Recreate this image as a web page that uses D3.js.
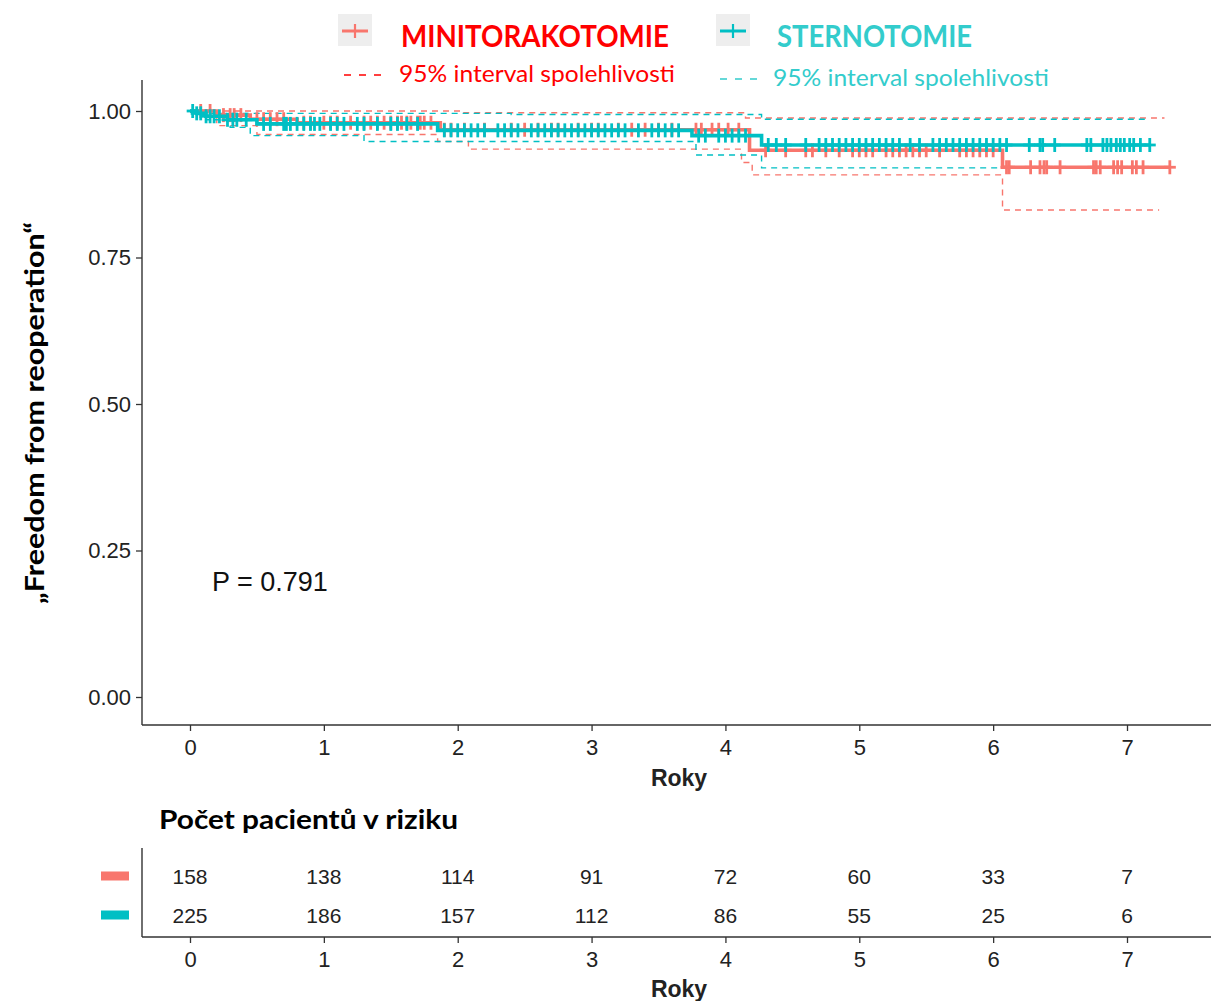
<!DOCTYPE html>
<html>
<head>
<meta charset="utf-8">
<script src="https://cdn.jsdelivr.net/npm/d3@7"></script>
<style>
  html, body { margin: 0; padding: 0; background: #fff; }
  svg { display: block; }
</style>
</head>
<body>
<svg id="chart" width="1211" height="1001"></svg>
<script>
// ---- Kaplan–Meier estimates (time in years, survival probability) ----
const redTimes  = [0, 0.2, 0.45, 0.8, 1.87, 4.18, 6.07];
const redSurv   = [1.0, 0.993, 0.986, 0.980, 0.968, 0.933, 0.904];
const redEnd    = 7.32;

const tealTimes = [0, 0.05, 0.12, 0.28, 0.5, 1.85, 3.75, 4.27];
const tealSurv  = [1.0, 0.996, 0.991, 0.985, 0.978, 0.967, 0.958, 0.942];
const tealEnd   = 7.17;

// 95% confidence bands
const redUpperT  = [0, 2.03, 4.15];
const redUpperS  = [1.0, 0.997, 0.988];
const redLowerT  = [0, 0.2, 0.5, 1.85, 2.08, 4.12, 4.2, 6.07];
const redLowerS  = [1.0, 0.975, 0.96, 0.948, 0.935, 0.912, 0.891, 0.831];

const tealUpperT = [0, 0.15, 2.4, 4.27];
const tealUpperS = [1.0, 0.996, 0.994, 0.986];
const tealLowerT = [0, 0.12, 0.3, 0.45, 1.3, 3.78, 4.27];
const tealLowerS = [1.0, 0.985, 0.972, 0.958, 0.948, 0.925, 0.903];

// censoring times
const redCensor = [0.08, 0.15, 0.25, 0.3, 0.33, 0.38, 0.5, 0.55, 0.6, 0.65, 0.7,
  0.85, 0.9, 1.0, 1.05, 1.1, 1.2, 1.3, 1.35, 1.4, 1.45, 1.5, 1.55, 1.58, 1.62, 1.65, 1.7, 1.72, 1.75, 1.8,
  1.9, 1.95, 2.05, 2.2, 2.4, 2.5, 2.6, 2.7, 2.75, 2.9, 3.0, 3.05, 3.2, 3.3, 3.4, 3.5, 3.6, 3.78, 3.82, 3.9, 3.95, 4.02, 4.1,
  4.3, 4.45, 4.6, 4.65, 4.75, 4.85, 4.95, 5.0, 5.05, 5.1, 5.2, 5.25, 5.3, 5.35, 5.4, 5.45, 5.5, 5.6, 5.75, 5.8, 5.85, 5.9, 5.95, 6.0,
  6.1, 6.12, 6.28, 6.35, 6.38, 6.4, 6.5, 6.75, 6.77, 6.8, 6.9, 6.93, 6.96, 7.04, 7.07, 7.12, 7.32];
const tealCensor = [0.02, 0.05, 0.08, 0.12, 0.15, 0.18, 0.22, 0.28, 0.32, 0.35, 0.42, 0.55, 0.6, 0.7, 0.72, 0.75, 0.8,
  0.85, 0.9, 0.93, 0.97, 1.05, 1.1, 1.15, 1.25, 1.3, 1.4, 1.5, 1.55, 1.62, 1.7,
  1.9, 1.95, 2.0, 2.05, 2.1, 2.15, 2.2, 2.3, 2.35, 2.4, 2.45, 2.55, 2.6, 2.65, 2.7, 2.75, 2.8, 2.85, 2.9, 2.95,
  3.0, 3.05, 3.1, 3.15, 3.2, 3.25, 3.35, 3.45, 3.5, 3.55, 3.6, 3.65,
  3.8, 3.85, 3.95, 4.0, 4.05, 4.1, 4.15,
  4.32, 4.38, 4.45, 4.6, 4.7, 4.75, 4.8, 4.85, 4.9, 4.95, 5.0, 5.05, 5.1, 5.15, 5.2, 5.25, 5.3, 5.38, 5.45,
  5.55, 5.6, 5.65, 5.7, 5.75, 5.8, 5.85, 5.9, 5.95, 6.0, 6.05, 6.1, 6.27, 6.35, 6.37, 6.46, 6.7, 6.73,
  6.82, 6.85, 6.88, 6.92, 6.95, 6.98, 7.02, 7.05, 7.1, 7.17];

// number at risk
const riskYears = [0, 1, 2, 3, 4, 5, 6, 7];
const redAtRisk  = [158, 138, 114, 91, 72, 60, 33, 7];
const tealAtRisk = [225, 186, 157, 112, 86, 55, 25, 6];

const yTicks = [0, 0.25, 0.5, 0.75, 1.0];
const pLabel = "P = 0.791";

// ---- layout ----
const RED = "#F8766D", TEAL = "#00BFC4";
const svg = d3.select("#chart");
const x = d3.scaleLinear().domain([0, 7]).range([190, 1127]);
const y = d3.scaleLinear().domain([0, 1]).range([697, 111]);
const axisColor = "#333";
const tickFont = "'Liberation Sans', Arial, sans-serif";

// axes of the survival panel
const xAxis = d3.axisBottom(x).tickValues(riskYears).tickFormat(d3.format("d")).tickSize(6).tickPadding(8);
const yAxis = d3.axisLeft(y).tickValues(yTicks).tickFormat(d3.format(".2f")).tickSize(6).tickPadding(5);

function styleAxis(g) {
  g.select(".domain").remove();
  g.selectAll(".tick line").attr("stroke", axisColor).attr("stroke-width", 1.3);
  g.selectAll(".tick text").attr("fill", "#222").style("font-family", tickFont).style("font-size", "22px");
}

svg.append("line").attr("x1", 142).attr("x2", 142).attr("y1", 80).attr("y2", 725)
  .attr("stroke", axisColor).attr("stroke-width", 1.4);
svg.append("line").attr("x1", 142).attr("x2", 1211).attr("y1", 725).attr("y2", 725)
  .attr("stroke", axisColor).attr("stroke-width", 1.4);

svg.append("g").attr("transform", "translate(0,725)").call(xAxis).call(styleAxis);
svg.append("g").attr("transform", "translate(142,0)").call(yAxis).call(styleAxis);

// step curves
const step = d3.line().x(d => x(d[0])).y(d => y(d[1])).curve(d3.curveStepAfter);
function pts(ts, ss, end) {
  const p = ts.map((t, i) => [t, ss[i]]);
  p.push([end, ss[ss.length - 1]]);
  return p;
}
function survAt(ts, ss, t) {
  let s = ss[0];
  for (let i = 0; i < ts.length; i++) if (ts[i] <= t) s = ss[i];
  return s;
}

const bands = [
  [redUpperT, redUpperS, redEnd - 0.04, RED],
  [redLowerT, redLowerS, redEnd - 0.08, RED],
  [tealUpperT, tealUpperS, tealEnd, TEAL],
  [tealLowerT, tealLowerS, tealEnd, TEAL]
];
bands.forEach(([t, s, e, c]) => {
  svg.append("path").attr("d", step(pts(t, s, e))).attr("fill", "none")
    .attr("stroke", c).attr("stroke-width", 1.4).attr("stroke-dasharray", "6,5");
});

function drawCurve(ts, ss, end, censor, color) {
  svg.append("path").attr("d", step(pts(ts, ss, end))).attr("fill", "none")
    .attr("stroke", color).attr("stroke-width", 3.6);
  const g = svg.append("g").attr("stroke", color).attr("stroke-width", 2.8);
  censor.forEach(t => {
    const cx = x(t), cy = y(survAt(ts, ss, t));
    g.append("line").attr("x1", cx).attr("x2", cx).attr("y1", cy - 7).attr("y2", cy + 7);
    g.append("line").attr("x1", cx - 6).attr("x2", cx + 6).attr("y1", cy).attr("y2", cy);
  });
}
drawCurve(redTimes, redSurv, redEnd, redCensor, RED);
drawCurve(tealTimes, tealSurv, tealEnd, tealCensor, TEAL);

// p-value
svg.append("text").attr("x", 212).attr("y", 591).text(pLabel)
  .style("font-family", tickFont).style("font-size", "27px").attr("fill", "#111");

// axis titles
svg.append("text").attr("x", 679).attr("y", 786).attr("text-anchor", "middle").text("Roky")
  .style("font-family", tickFont).style("font-size", "23px").style("font-weight", "bold").attr("fill", "#222");
svg.append("text").attr("transform", "translate(44,413) rotate(-90)").attr("text-anchor", "middle")
  .text("\u201EFreedom from reoperation\u201C")
  .attr("textLength", 382).attr("lengthAdjust", "spacingAndGlyphs")
  .style("font-family", "Lato, sans-serif").style("font-size", "27px").style("font-weight", "bold").attr("fill", "#000");

// legend
const calibri = "Lato, 'Open Sans', sans-serif";
function legendKey(x0, color) {
  svg.append("rect").attr("x", x0).attr("y", 14).attr("width", 34).attr("height", 32).attr("fill", "#EEEEEE");
  svg.append("line").attr("x1", x0 + 4).attr("x2", x0 + 30).attr("y1", 31).attr("y2", 31).attr("stroke", color).attr("stroke-width", 3);
  svg.append("line").attr("x1", x0 + 17).attr("x2", x0 + 17).attr("y1", 24).attr("y2", 38).attr("stroke", color).attr("stroke-width", 2.2);
}
legendKey(338, RED);
legendKey(716, TEAL);
svg.append("text").attr("x", 401).attr("y", 47).text("MINITORAKOTOMIE")
  .attr("textLength", 268).attr("lengthAdjust", "spacingAndGlyphs")
  .style("font-family", calibri).style("font-size", "30px").style("font-weight", "bold").attr("fill", "#FF0000");
svg.append("text").attr("x", 777).attr("y", 47).text("STERNOTOMIE")
  .attr("textLength", 195).attr("lengthAdjust", "spacingAndGlyphs")
  .style("font-family", calibri).style("font-size", "30px").style("font-weight", "bold").attr("fill", "#33CCCC");
svg.append("line").attr("x1", 344).attr("x2", 383).attr("y1", 75).attr("y2", 75)
  .attr("stroke", "#FF0000").attr("stroke-width", 1.6).attr("stroke-dasharray", "7,8");
svg.append("text").attr("x", 399).attr("y", 82).text("95% interval spolehlivosti")
  .attr("textLength", 276).attr("lengthAdjust", "spacingAndGlyphs")
  .style("font-family", calibri).style("font-size", "24px").attr("fill", "#FF0000");
svg.append("line").attr("x1", 720).attr("x2", 759).attr("y1", 79).attr("y2", 79)
  .attr("stroke", "#33CCCC").attr("stroke-width", 1.6).attr("stroke-dasharray", "7,8");
svg.append("text").attr("x", 773).attr("y", 86).text("95% interval spolehlivosti")
  .attr("textLength", 276).attr("lengthAdjust", "spacingAndGlyphs")
  .style("font-family", calibri).style("font-size", "24px").attr("fill", "#33CCCC");

// ---- risk table ----
svg.append("text").attr("x", 159).attr("y", 829).text("Po\u010Det pacient\u016F v riziku")
  .attr("textLength", 299).attr("lengthAdjust", "spacingAndGlyphs")
  .style("font-family", calibri).style("font-size", "27px").style("font-weight", "bold").attr("fill", "#000");

svg.append("line").attr("x1", 142).attr("x2", 142).attr("y1", 848).attr("y2", 937)
  .attr("stroke", axisColor).attr("stroke-width", 1.4);
svg.append("line").attr("x1", 142).attr("x2", 1211).attr("y1", 937).attr("y2", 937)
  .attr("stroke", axisColor).attr("stroke-width", 1.4);
svg.append("g").attr("transform", "translate(0,937)").call(xAxis).call(styleAxis);
svg.append("text").attr("x", 679).attr("y", 997).attr("text-anchor", "middle").text("Roky")
  .style("font-family", tickFont).style("font-size", "23px").style("font-weight", "bold").attr("fill", "#222");

const rows = [[redAtRisk, 876, RED], [tealAtRisk, 915, TEAL]];
rows.forEach(([vals, cy, color]) => {
  svg.append("rect").attr("x", 101).attr("y", cy - 4.5).attr("width", 28).attr("height", 9).attr("fill", color);
  svg.append("g").selectAll("text").data(vals).join("text")
    .attr("x", (d, i) => x(riskYears[i])).attr("y", cy + 7.5).attr("text-anchor", "middle")
    .text(d => d).style("font-family", tickFont).style("font-size", "21px").attr("fill", "#222");
});
</script>
</body>
</html>
